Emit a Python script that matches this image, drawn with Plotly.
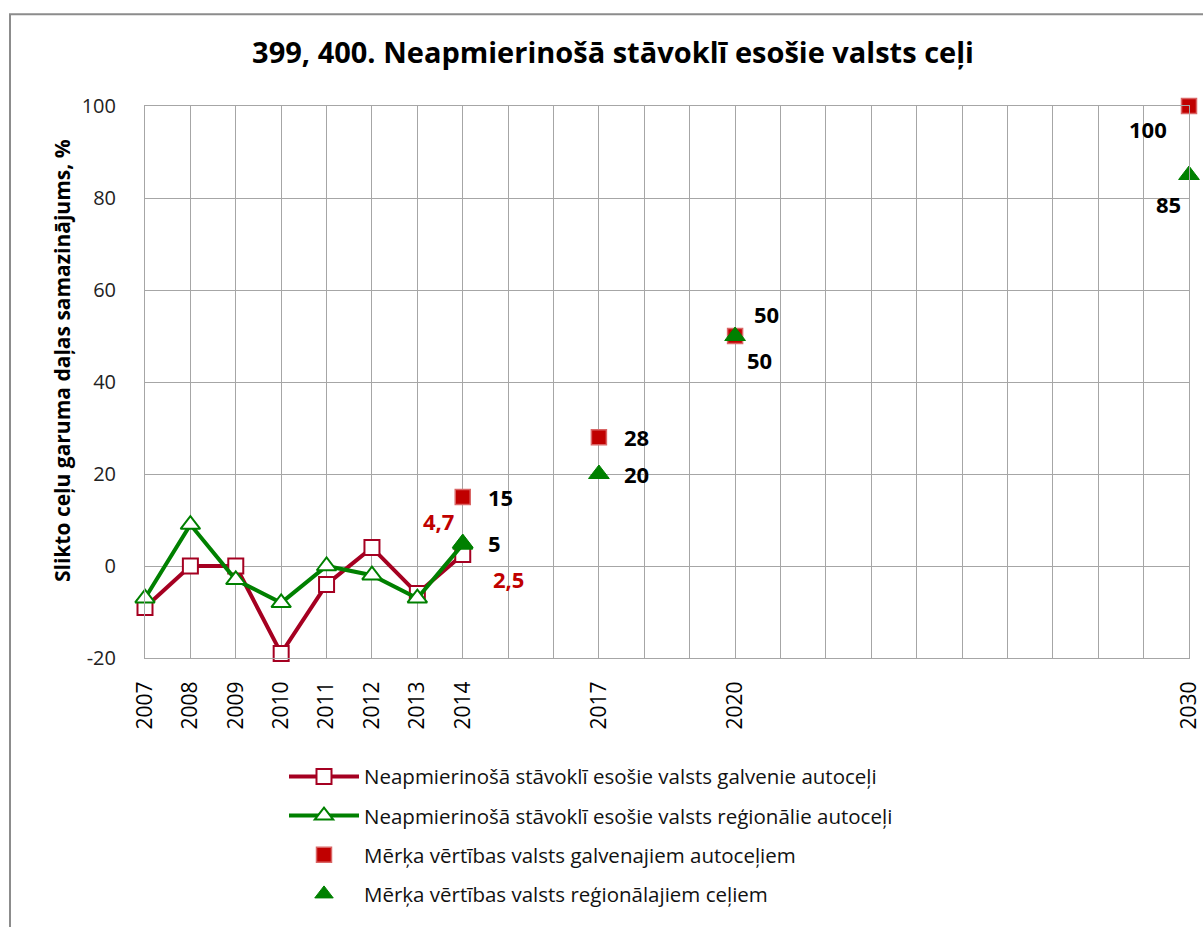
import plotly.graph_objects as go

# Actual values, % change in share of bad-condition road length
years_actual = [2007, 2008, 2009, 2010, 2011, 2012, 2013, 2014]
main_roads = [-9, 0, 0, -19, -4, 4, -6, 2.5]
regional_roads = [-7, 9, -3, -8, 0, -2, -7, 4.7]

# Target values
years_target = [2014, 2017, 2020, 2030]
main_target = [15, 28, 50, 100]
regional_target = [5, 20, 50, 85]

tick_years = [2007, 2008, 2009, 2010, 2011, 2012, 2013, 2014, 2017, 2020, 2030]
y_ticks = [-20, 0, 20, 40, 60, 80, 100]

RED_LINE = "#A50021"
RED_TARGET = "#C00000"
GREEN = "#008000"
FONT = "Open Sans"

fig = go.Figure()

fig.add_trace(go.Scatter(
    x=years_actual, y=main_roads, mode="lines+markers",
    name="Neapmierinošā stāvoklī esošie valsts galvenie autoceļi",
    line=dict(color=RED_LINE, width=4),
    marker=dict(symbol="square", size=15, color="white",
                line=dict(color=RED_LINE, width=2)),
    legendgroup="a", cliponaxis=False,
))
fig.add_trace(go.Scatter(
    x=years_actual, y=regional_roads, mode="lines+markers",
    name="Neapmierinošā stāvoklī esošie valsts reģionālie autoceļi",
    line=dict(color=GREEN, width=4),
    marker=dict(symbol="triangle-up", size=17, color="white",
                line=dict(color=GREEN, width=2)),
    legendgroup="b", cliponaxis=False,
))
fig.add_trace(go.Scatter(
    x=years_target, y=main_target, mode="markers",
    name="Mērķa vērtības valsts galvenajiem autoceļiem",
    marker=dict(symbol="square", size=15, color=RED_TARGET,
                line=dict(color="#D96666", width=1.5)),
    legendgroup="c", cliponaxis=False,
))
fig.add_trace(go.Scatter(
    x=years_target, y=regional_target, mode="markers",
    name="Mērķa vērtības valsts reģionālajiem ceļiem",
    marker=dict(symbol="triangle-up", size=18, color=GREEN,
                line=dict(color=GREEN, width=1)),
    legendgroup="d", cliponaxis=False,
))


def fmt(v):
    return str(v).replace(".", ",")


label_font = dict(family=FONT, size=22, color="black")
red_font = dict(family=FONT, size=22, color=RED_TARGET)

annotations = []
# target labels: (xshift, yshift) in pixels from the marker
main_offsets = [(38, 0), (38, 0), (31, 22), (-41, -23)]
reg_offsets = [(32, 0), (38, 0), (24, -24), (-21, -29)]
for x, y, (dx, dy) in zip(years_target, main_target, main_offsets):
    annotations.append(dict(x=x, y=y, text=f"<b>{fmt(y)}</b>", showarrow=False,
                            xshift=dx, yshift=dy, font=label_font))
for x, y, (dx, dy) in zip(years_target, regional_target, reg_offsets):
    annotations.append(dict(x=x, y=y, text=f"<b>{fmt(y)}</b>", showarrow=False,
                            xshift=dx, yshift=dy, font=label_font))
# last actual values
annotations.append(dict(x=years_actual[-1], y=regional_roads[-1],
                        text=f"<b>{fmt(regional_roads[-1])}</b>", showarrow=False,
                        xshift=-24, yshift=23, font=red_font))
annotations.append(dict(x=years_actual[-1], y=main_roads[-1],
                        text=f"<b>{fmt(main_roads[-1])}</b>", showarrow=False,
                        xshift=46, yshift=-24, font=red_font))
# y-axis title
annotations.append(dict(xref="paper", yref="paper", x=(62 - 145) / 1044,
                        y=(660 - 362) / 554, xanchor="center", yanchor="middle",
                        text="<b>Slikto ceļu garuma daļas samazinājums, %</b>",
                        textangle=-90, showarrow=False,
                        font=dict(family=FONT, size=21, color="black")))

fig.update_layout(
    width=1203, height=927,
    margin=dict(l=145, r=14, t=106, b=267),
    paper_bgcolor="white", plot_bgcolor="white",
    font=dict(family=FONT, color="black"),
    title=dict(text="<b>399, 400. Neapmierinošā stāvoklī esošie valsts ceļi</b>",
               x=613 / 1203, xref="container", xanchor="center",
               y=1 - 53 / 927, yref="container", yanchor="middle",
               font=dict(family=FONT, size=29, color="black")),
    showlegend=True,
    legend=dict(x=(284 - 145) / 1044, y=(660 - 759) / 554,
                xanchor="left", yanchor="top",
                font=dict(family=FONT, size=20.5, color="#111111"),
                tracegroupgap=9.5, itemwidth=70,
                bgcolor="rgba(0,0,0,0)"),
    annotations=annotations,
    shapes=[dict(type="rect", xref="paper", yref="paper",
                 x0=(10 - 145) / 1044, x1=1.05,
                 y0=-0.6, y1=(660 - 14) / 554,
                 line=dict(color="#8C8C8C", width=2), layer="below")],
)

fig.update_xaxes(
    range=[2007, 2030], tickmode="array", tickvals=tick_years,
    ticktext=[str(y) for y in tick_years], tickangle=-90,
    tickfont=dict(family=FONT, size=21, color="black"),
    showgrid=True, gridcolor="#A6A6A6", gridwidth=1,
    minor=dict(tickmode="array", tickvals=list(range(2007, 2031)),
               showgrid=True, gridcolor="#A6A6A6", gridwidth=1),
    showline=True, linecolor="#A6A6A6", mirror=True,
    zeroline=False, ticks="", automargin=False, ticklabelstandoff=14,
)
fig.update_yaxes(
    range=[-20, 100], tickmode="array", tickvals=y_ticks,
    ticktext=[str(v) for v in y_ticks],
    tickfont=dict(family=FONT, size=20, color="#222222"),
    showgrid=True, gridcolor="#A6A6A6", gridwidth=1,
    showline=True, linecolor="#A6A6A6", mirror=True,
    zeroline=False, ticks="", ticklabelstandoff=24, automargin=False,
)

fig.write_html("out.html")
